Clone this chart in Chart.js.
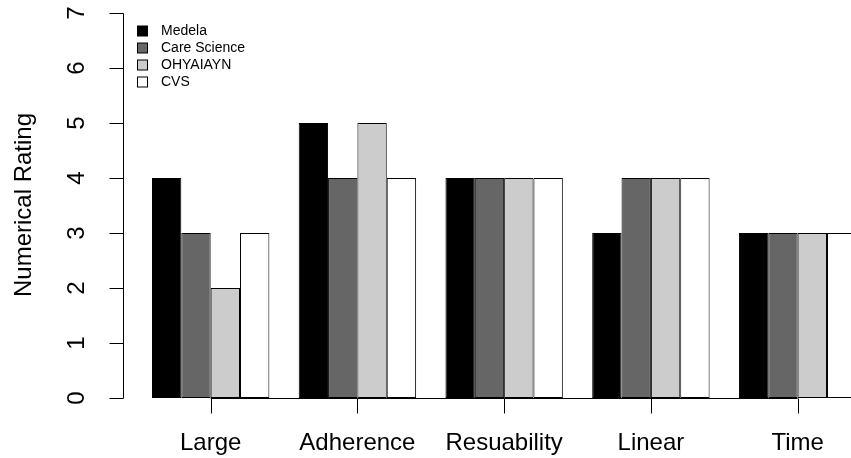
<!DOCTYPE html>
<html>
<head>
<meta charset="utf-8">
<script src="https://cdn.jsdelivr.net/npm/chart.js@4"></script>
<style>
  html, body { margin: 0; padding: 0; background: #fff; overflow: hidden; }
  canvas { display: block; }
</style>
</head>
<body>
<canvas id="ratingChart" width="880" height="458"></canvas>
<script>
// categories and ratings
const categories = ["Large", "Adherence", "Resuability", "Linear", "Time"];
const brandNames = ["Medela", "Care Science", "OHYAIAYN", "CVS"];
const medela = [4, 5, 4, 3, 3];
const careScience = [3, 4, 4, 4, 3];
const ohyaiayn = [2, 5, 4, 4, 3];
const cvs = [3, 4, 4, 4, 3];
const yTicks = [0, 1, 2, 3, 4, 5, 6, 7];

const fills = ["#000000", "#666666", "#cccccc", "#ffffff"];
const font = "Liberation Sans, Arial, sans-serif";

// R-style axes + legend drawn over the chart
const baseAxes = {
  id: "baseAxes",
  afterDraw(chart) {
    const ctx = chart.ctx;
    const x = chart.scales.x;
    const y = chart.scales.y;
    ctx.save();
    ctx.strokeStyle = "#000";
    ctx.lineWidth = 1;
    ctx.fillStyle = "#000";

    // y axis
    const axisX = 123.5;
    const yTop = y.getPixelForValue(yTicks[yTicks.length - 1]);
    const yBot = y.getPixelForValue(yTicks[0]);
    ctx.beginPath();
    ctx.moveTo(axisX, Math.round(yTop) + 0.5);
    ctx.lineTo(axisX, Math.round(yBot) + 0.5);
    yTicks.forEach(t => {
      const py = Math.round(y.getPixelForValue(t)) + 0.5;
      ctx.moveTo(axisX, py);
      ctx.lineTo(axisX - 14, py);
    });
    ctx.stroke();
    ctx.font = "24px " + font;
    ctx.textAlign = "center";
    ctx.textBaseline = "middle";
    yTicks.forEach(t => {
      ctx.save();
      ctx.translate(77, y.getPixelForValue(t));
      ctx.rotate(-Math.PI / 2);
      ctx.fillText(String(t), 0, 0);
      ctx.restore();
    });

    // y title
    ctx.save();
    ctx.translate(24, 205);
    ctx.rotate(-Math.PI / 2);
    ctx.fillText("Numerical Rating", 0, 0);
    ctx.restore();

    // x axis
    const first = x.getPixelForValue(0);
    const last = x.getPixelForValue(categories.length - 1);
    const base = Math.round(yBot) + 0.5;
    ctx.beginPath();
    ctx.moveTo(first, base);
    ctx.lineTo(last, base);
    categories.forEach((c, i) => {
      const px = Math.round(x.getPixelForValue(i)) + 0.5;
      ctx.moveTo(px, base);
      ctx.lineTo(px, base + 15);
    });
    ctx.stroke();
    ctx.textBaseline = "alphabetic";
    categories.forEach((c, i) => {
      ctx.fillText(c, x.getPixelForValue(i), 450);
    });

    // legend
    ctx.font = "14px " + font;
    ctx.textAlign = "left";
    ctx.textBaseline = "middle";
    chart.data.datasets.forEach((ds, i) => {
      const cy = 31 + i * 17;
      ctx.fillStyle = ds.backgroundColor;
      ctx.fillRect(137.5, cy - 5, 10, 10);
      ctx.strokeStyle = "#000";
      ctx.strokeRect(137.5, cy - 5, 10, 10);
      ctx.fillStyle = "#000";
      ctx.fillText(ds.label, 161, cy);
    });
    ctx.restore();
  }
};

const seriesValues = [medela, careScience, ohyaiayn, cvs];

const ctx = document.getElementById("ratingChart").getContext("2d");
const ratingChart = new Chart(ctx, {
  type: "bar",
  data: {
    labels: categories,
    datasets: brandNames.map((name, i) => ({
      label: name,
      data: seriesValues[i],
      backgroundColor: fills[i],
      borderColor: "#000000",
      borderWidth: 1,
      borderSkipped: false,
      categoryPercentage: 0.8,
      barPercentage: 1.0
    }))
  },
  options: {
    responsive: false,
    animation: false,
    layout: {
      padding: { left: 137.3, right: 9, top: 13, bottom: 60 }
    },
    plugins: {
      legend: { display: false },
      tooltip: { enabled: false }
    },
    scales: {
      x: { display: false },
      y: { display: false, min: 0, max: 7 }
    }
  },
  plugins: [baseAxes]
});
</script>
</body>
</html>
